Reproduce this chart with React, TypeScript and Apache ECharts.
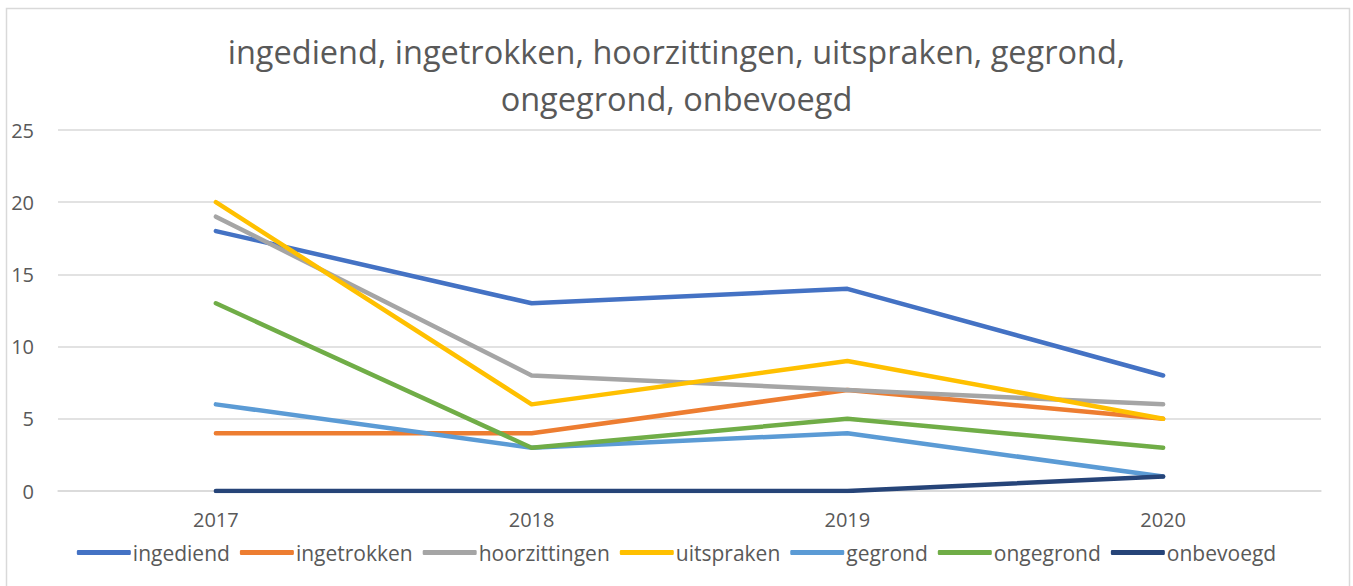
import React, { useEffect, useRef } from "react";
import * as echarts from "echarts";

const categories = ["2017", "2018", "2019", "2020"];
const seriesNames = ["ingediend", "ingetrokken", "hoorzittingen", "uitspraken", "gegrond", "ongegrond", "onbevoegd"];
const ingediend = [18, 13, 14, 8];
const ingetrokken = [4, 4, 7, 5];
const hoorzittingen = [19, 8, 7, 6];
const uitspraken = [20, 6, 9, 5];
const gegrond = [6, 3, 4, 1];
const ongegrond = [13, 3, 5, 3];
const onbevoegd = [0, 0, 0, 1];
const seriesValues = [ingediend, ingetrokken, hoorzittingen, uitspraken, gegrond, ongegrond, onbevoegd];
const colors = ["#4472C4", "#ED7D31", "#A5A5A5", "#FFC000", "#5B9BD5", "#70AD47", "#264478"];
const titleLines = ["ingediend, ingetrokken, hoorzittingen, uitspraken, gegrond,", "ongegrond, onbevoegd"];

export default function App() {
  const ref = useRef<HTMLDivElement>(null);
  useEffect(() => {
    if (!ref.current) return;
    const chart = echarts.init(ref.current, null, { renderer: "svg" });
    const font = "'Open Sans', sans-serif";
    chart.setOption({
      animation: false,
      backgroundColor: "#ffffff",
      color: colors,
      textStyle: { fontFamily: font },
      graphic: [
        {
          type: "rect",
          shape: { x: 6.5, y: 8.5, width: 1343, height: 620 },
          style: { fill: "none", stroke: "#d9d9d9", lineWidth: 1.5 },
          silent: true,
        },
      ],
      title: titleLines.map((t, i) => ({
        text: t,
        left: "center",
        top: 35 + i * 47,
        padding: 0,
        textStyle: {
          fontFamily: font,
          fontSize: 32.5,
          fontWeight: "normal",
          color: "#595959",
        },
      })),
      legend: {
        data: seriesNames,
        left: "center",
        top: 537,
        icon: "roundRect",
        itemWidth: 54,
        itemHeight: 5,
        itemGap: 10,
        textStyle: { fontFamily: font, fontSize: 21, color: "#595959", padding: [0, 0, 0, -3] },
      },
      grid: { left: 58, right: 32, top: 130, bottom: 95, containLabel: false },
      xAxis: {
        type: "category",
        data: categories,
        boundaryGap: true,
        axisLine: { lineStyle: { color: "#d9d9d9", width: 1.5 } },
        axisTick: { show: false },
        axisLabel: { color: "#595959", fontSize: 20, fontFamily: font, margin: 18 },
      },
      yAxis: {
        type: "value",
        min: 0,
        max: 25,
        interval: 5,
        axisLine: { show: false },
        axisTick: { show: false },
        axisLabel: { color: "#595959", fontSize: 20, fontFamily: font, margin: 24 },
        splitLine: { lineStyle: { color: "#d9d9d9", width: 1.5 } },
      },
      series: seriesNames.map((name, i) => ({
        name,
        type: "line",
        data: seriesValues[i],
        symbol: "none",
        showSymbol: false,
        z: 2 + i,
        lineStyle: { width: 4.5, color: colors[i], cap: "round", join: "round" },
        itemStyle: { color: colors[i] },
      })),
    });
    return () => chart.dispose();
  }, []);
  return (
    <div style={{ position: "fixed", left: 0, top: 0, width: 1353, height: 586, background: "#fff" }}>
      <div ref={ref} style={{ width: 1353, height: 586 }} />
    </div>
  );
}
